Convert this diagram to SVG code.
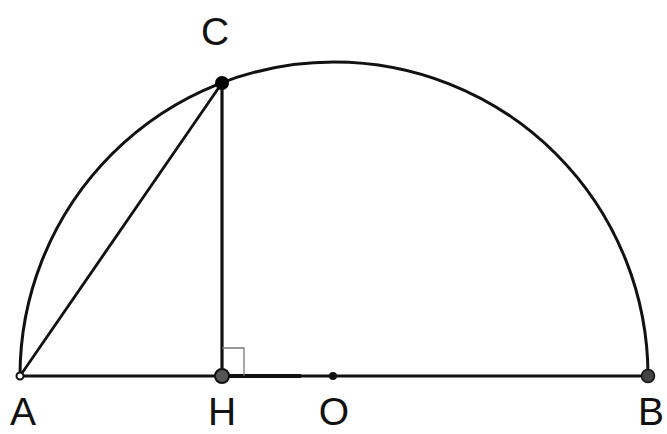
<svg xmlns="http://www.w3.org/2000/svg" width="667" height="434" viewBox="0 0 667 434">
<style>
.ln{stroke:#111;fill:none;stroke-linecap:round}
.lbl{font-family:"Liberation Sans",Arial,sans-serif;font-size:39px;fill:#111;text-anchor:middle}
</style>
<rect width="667" height="434" fill="#fff"/>
<g id="connectors">
<path class="ln" d="M20,376 A314,314 0 0 1 648,376" stroke-width="3"/>
<line class="ln" x1="20" y1="376" x2="648" y2="376" stroke-width="2.8"/>
<line class="ln" x1="222" y1="376" x2="300" y2="376" stroke-width="3.8"/>
<line class="ln" x1="20" y1="376" x2="222" y2="83" stroke-width="2.8"/>
<line class="ln" x1="222" y1="83" x2="222" y2="376" stroke-width="3.2"/>
<polyline points="222,348 244,348 244,376" fill="none" stroke="#777" stroke-width="1.3"/>
</g>
<g id="A"><circle cx="20" cy="376" r="3.5" fill="#fff" stroke="#111" stroke-width="2"/><text class="lbl" x="23" y="425">A</text></g>
<g id="H"><circle cx="222" cy="376" r="7" fill="#555" stroke="#111" stroke-width="2"/><text class="lbl" x="222" y="425">H</text></g>
<g id="O"><circle cx="333" cy="376" r="4" fill="#111"/><text class="lbl" x="334" y="425">O</text></g>
<g id="B"><circle cx="648" cy="376" r="6.5" fill="#444" stroke="#111" stroke-width="1.5"/><text class="lbl" x="651" y="425">B</text></g>
<g id="C"><circle cx="222" cy="83" r="7" fill="#000"/><text class="lbl" x="215" y="45">C</text></g>
</svg>
